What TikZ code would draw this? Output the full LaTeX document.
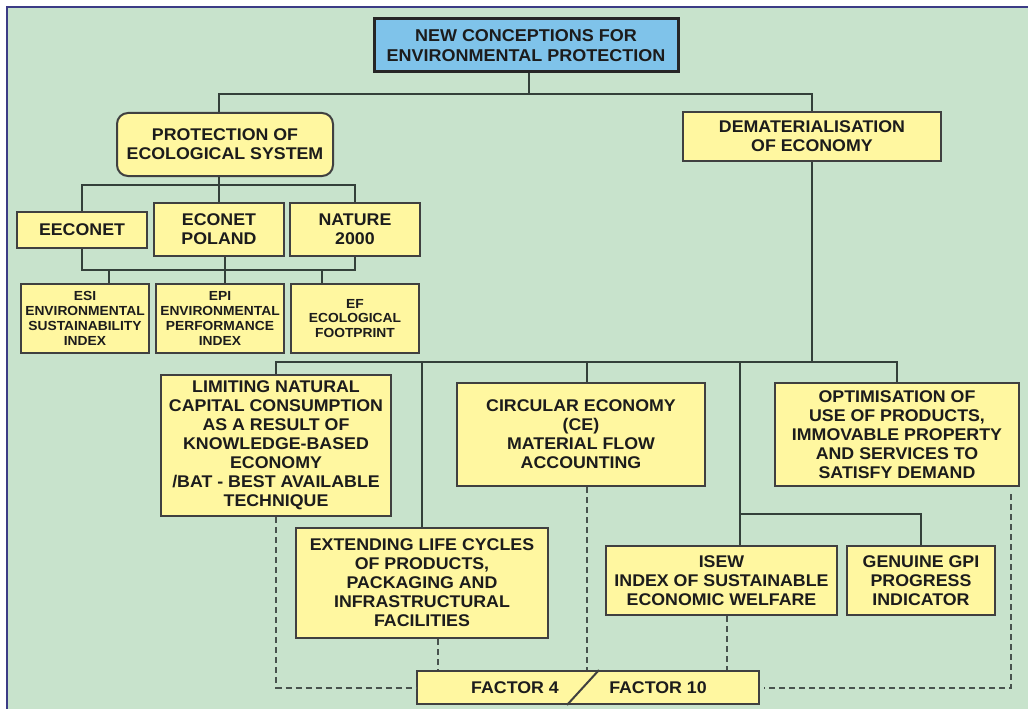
\documentclass[tikz,border=0pt]{standalone}
\usepackage{fontspec}
\newfontfamily\bfont[FakeStretch=1.05]{Liberation Sans}
\usetikzlibrary{calc}
\definecolor{bgc}{HTML}{C8E3CC}
\definecolor{boxfill}{HTML}{FFF7A0}
\definecolor{titlefill}{HTML}{7FC3EA}
\definecolor{boxline}{HTML}{404040}
\definecolor{connc}{HTML}{34403A}
\definecolor{framec}{HTML}{3C3C86}
\definecolor{txt}{HTML}{1C1C1C}
\tikzset{
  box/.style={draw=boxline, fill=boxfill, line width=2bp, align=center, inner sep=0pt, text=txt,
    font=\bfont\bfseries\fontsize{17}{19}\selectfont},
  smallbox/.style={box, font=\bfont\bfseries\fontsize{13.2}{15}\selectfont},
  titlebox/.style={box, fill=titlefill, draw=black!85, line width=3bp,
    font=\bfont\bfseries\fontsize{17.2}{20}\selectfont},
  plain/.style={inner sep=0pt, text=txt, font=\bfont\bfseries\fontsize{17}{19}\selectfont},
  conn/.style={draw=connc, line width=2bp},
  dashconn/.style={draw=connc!90, line width=2bp, dash pattern=on 6bp off 4bp}
}
\begin{document}
\begin{tikzpicture}[x=1bp,y=-1bp]
\useasboundingbox (0,0) rectangle (1028,709);
\fill[white] (0,0) rectangle (1028,709);
\fill[bgc] (7,7) rectangle (1028,709);
\draw[framec, line width=2bp] (7,709) -- (7,7) -- (1028,7);

% nodes
\node[titlebox, minimum width=304bp, minimum height=53bp] (title) at (526,45.5) {NEW CONCEPTIONS FOR\\ENVIRONMENTAL PROTECTION};
\node[box, rounded corners=11bp, minimum width=216bp, minimum height=63bp] (prot) at (225,144.5) {PROTECTION OF\\ECOLOGICAL SYSTEM};
\node[box, minimum width=258bp, minimum height=49bp] (dem) at (812,136.5) {DEMATERIALISATION\\OF ECONOMY};

\node[box, minimum width=130bp, minimum height=36bp] (eeconet) at (82,230) {EECONET};
\node[box, minimum width=130bp, minimum height=53bp] (econet) at (219,229.5) {ECONET\\POLAND};
\node[box, minimum width=130bp, minimum height=53bp] (nature) at (355,229.5) {NATURE\\2000};

\node[smallbox, minimum width=128bp, minimum height=69bp] (esi) at (85,318.5) {ESI\\ENVIRONMENTAL\\SUSTAINABILITY\\INDEX};
\node[smallbox, minimum width=128bp, minimum height=69bp] (epi) at (220,318.5) {EPI\\ENVIRONMENTAL\\PERFORMANCE\\INDEX};
\node[smallbox, minimum width=128bp, minimum height=69bp] (ef) at (355,318.5) {EF\\ECOLOGICAL\\FOOTPRINT};

\node[box, minimum width=230bp, minimum height=141bp] (lim) at (276,445.5) {LIMITING NATURAL\\CAPITAL CONSUMPTION\\AS A RESULT OF\\KNOWLEDGE-BASED\\ECONOMY\\/BAT - BEST AVAILABLE\\TECHNIQUE};
\node[box, minimum width=252bp, minimum height=110bp] (ext) at (422,583) {EXTENDING LIFE CYCLES\\OF PRODUCTS,\\PACKAGING AND\\INFRASTRUCTURAL\\FACILITIES};
\node[box, minimum width=248bp, minimum height=103bp] (circ) at (581,434.5) {CIRCULAR ECONOMY\\(CE)\\MATERIAL FLOW\\ACCOUNTING};
\node[box, minimum width=244bp, minimum height=103bp] (optim) at (897,434.5) {OPTIMISATION OF\\USE OF PRODUCTS,\\IMMOVABLE PROPERTY\\AND SERVICES TO\\SATISFY DEMAND};
\node[box, minimum width=231bp, minimum height=69bp] (isew) at (721.5,580.5) {ISEW\\INDEX OF SUSTAINABLE\\ECONOMIC WELFARE};
\node[box, minimum width=148bp, minimum height=69bp] (gpi) at (921,580.5) {GENUINE GPI\\PROGRESS\\INDICATOR};

\node[box, minimum width=342bp, minimum height=33bp] (factor) at (588,687.5) {};
\node[plain] (f4) at (515,688) {FACTOR 4};
\node[plain] (f10) at (658,688) {FACTOR 10};
\coordinate (s1) at (567,0);
\coordinate (s2) at (599,0);
\draw[boxline, line width=2bp] (factor.south -| s1) -- (factor.north -| s2);

% junction coordinates
\coordinate (jt) at (529,94);
\coordinate (jp) at (219,185);
\coordinate (jl) at (225,270);
\coordinate (x109) at (109,270);
\coordinate (x322) at (322,270);
\coordinate (jd) at (812,362);
\coordinate (x587) at (587,362);
\coordinate (ji) at (740,514);
\coordinate (x438) at (438,0);
\coordinate (x727) at (727,0);
\coordinate (x1011) at (1011,0);

% solid connectors
\draw[conn] (title.south -| jt) -- (jt);
\draw[conn] (prot.north -| jp) |- (jt) -| (dem.north);
\draw[conn] (prot.south -| jp) -- (jp);
\draw[conn] (eeconet.north) |- (jp) -| (nature.north);
\draw[conn] (econet.north) -- (jp);
\draw[conn] (eeconet.south) |- (jl) -| (nature.south);
\draw[conn] (econet.south -| jl) -- (jl) -- (epi.north -| jl);
\draw[conn] (x109) -- (esi.north -| x109);
\draw[conn] (x322) -- (ef.north -| x322);

\draw[conn] (dem.south) -- (dem.south |- jd);
\draw[conn] (lim.north) |- (jd) -| (optim.north);
\draw[conn] (ext.north) -- (ext.north |- jd);
\draw[conn] (x587) -- (circ.north -| x587);
\draw[conn] (jd -| ji) -- (ji) -- (isew.north -| ji);
\draw[conn] (ji) -| (gpi.north);

% dashed connectors
\draw[dashconn] (lim.south) |- (factor.west);
\draw[dashconn] (ext.south -| x438) -- (factor.north -| x438);
\draw[dashconn] (circ.south -| x587) -- (factor.north -| x587);
\draw[dashconn] (isew.south -| x727) -- (factor.north -| x727);
\draw[dashconn] ($(optim.south -| x1011)+(0,7)$) |- ($(factor.east)+(4,0)$);
\end{tikzpicture}
\end{document}
